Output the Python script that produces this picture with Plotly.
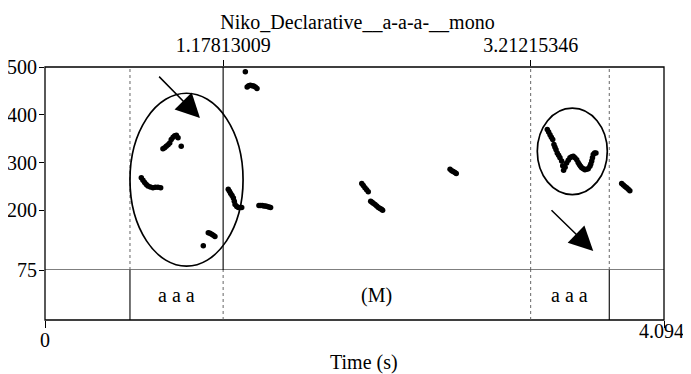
import plotly.graph_objects as go

# ---------------- data ----------------
title_text = "Niko_Declarative__a-a-a-__mono"
x_max = 4.094
x_label = "Time (s)"
f0_ticks = [75, 200, 300, 400, 500]
f0_range = [75, 500]

# pitch points (time in s, f0 in Hz)
times = [
    0.637, 0.648, 0.659, 0.670, 0.681, 0.697, 0.714, 0.730, 0.747, 0.765,
    0.780, 0.791, 0.802, 0.814, 0.825, 0.835, 0.847, 0.858, 0.869, 0.880, 0.901,
    1.047, 1.080, 1.091, 1.102, 1.113, 1.124,
    1.212, 1.220, 1.228, 1.237, 1.246, 1.252, 1.257, 1.268, 1.279, 1.290, 1.301,
    1.325, 1.337, 1.347, 1.358, 1.369, 1.380, 1.391, 1.402,
    1.415, 1.426, 1.437, 1.448, 1.459, 1.470, 1.481, 1.492,
    2.095, 2.105, 2.116, 2.127, 2.138,
    2.154, 2.163, 2.171, 2.183, 2.194, 2.205, 2.216, 2.225, 2.233,
    2.679, 2.690, 2.700, 2.711, 2.720,
    3.322, 3.331, 3.340, 3.349, 3.358, 3.366, 3.373, 3.380, 3.388, 3.397,
    3.406, 3.417, 3.424, 3.430, 3.440, 3.450, 3.461, 3.472, 3.483, 3.494,
    3.505, 3.517, 3.526, 3.534, 3.542, 3.550, 3.561, 3.571, 3.582, 3.593,
    3.604, 3.610, 3.616, 3.621, 3.626, 3.635, 3.644,
    3.814, 3.825, 3.836, 3.847, 3.858, 3.868,
]
f0 = [
    268, 263, 258, 254, 251, 249, 247, 248, 248, 247,
    329, 331, 334, 337, 341, 348, 353, 356, 357, 352, 334,
    126, 153, 152, 150, 148, 145,
    244, 240, 235, 231, 226, 219, 212, 208, 206, 206, 206,
    490, 458, 461, 462, 461, 460, 458, 455,
    210, 210, 210, 209, 209, 208, 207, 206,
    256, 252, 247, 243, 239,
    219, 217, 215, 212, 209, 206, 204, 202, 200,
    286, 283, 281, 279, 277,
    369, 364, 358, 353, 348, 338, 332, 327, 320, 315,
    310, 303, 293, 284, 290, 299, 305, 310, 312, 313,
    310, 306, 300, 296, 292, 289, 287, 285, 286, 287,
    292, 297, 303, 310, 317, 320, 320,
    256, 253, 250, 247, 244, 241,
]

# text-grid tier
tier_bounds = [0.562, 1.17813009, 3.21215346, 3.732]
tier_labels = ["a a a", "(M)", "a a a"]
top_marks = [1.17813009, 3.21215346]
top_mark_labels = ["1.17813009", "3.21215346"]

# hand-drawn annotations (time, Hz)
ellipse_x = [[0.562, 1.31], [3.256, 3.719]]
ellipse_y = [[83, 445], [233, 414]]
arrow_tail = [[0.745, 483], [3.340, 203]]
arrow_head = [[1.025, 393], [3.626, 115]]

# ---------------- figure ----------------
FONT = "Liberation Serif, Times New Roman, serif"
tier_frac = 50 / 253
W, H = 683, 366  # page body adds an 8px offset

fig = go.Figure()
fig.add_trace(go.Scatter(
    x=times, y=f0, mode="markers",
    marker=dict(size=5.5, color="black", line=dict(width=0)),
    xaxis="x", yaxis="y", showlegend=False, hoverinfo="skip"))
# invisible trace to carry the top axis
fig.add_trace(go.Scatter(
    x=top_marks, y=[f0_range[1]] * len(top_marks), mode="markers",
    marker=dict(size=1, opacity=0), xaxis="x2", yaxis="y",
    showlegend=False, hoverinfo="skip"))

shapes = []
shapes.append(dict(type="rect", xref="paper", yref="paper", x0=0, x1=1, y0=0, y1=1,
                   line=dict(color="black", width=1.3)))
shapes.append(dict(type="line", xref="paper", yref="y", x0=0, x1=1,
                   y0=f0_range[0], y1=f0_range[0], line=dict(color="black", width=1.2)))
pitch_styles = ["dot", "solid", "dot", "dot"]
tier_styles = ["solid", "dot", "dot", "solid"]
for b, ps, ts in zip(tier_bounds, pitch_styles, tier_styles):
    shapes.append(dict(type="line", xref="x", yref="y", x0=b, x1=b,
                       y0=f0_range[0], y1=f0_range[1],
                       line=dict(color="black" if ps == "solid" else "#555",
                                 width=1.1 if ps == "solid" else 0.9, dash=ps)))
    shapes.append(dict(type="line", xref="x", yref="y2", x0=b, x1=b, y0=0, y1=1,
                       line=dict(color="black" if ts == "solid" else "#555",
                                 width=1.1 if ts == "solid" else 0.9, dash=ts)))
for ex, ey in zip(ellipse_x, ellipse_y):
    shapes.append(dict(type="circle", xref="x", yref="y", x0=ex[0], x1=ex[1],
                       y0=ey[0], y1=ey[1], line=dict(color="black", width=1.7)))

annotations = []
for i, lab in enumerate(tier_labels):
    annotations.append(dict(x=(tier_bounds[i] + tier_bounds[i + 1]) / 2, y=0.5,
                            xref="x", yref="y2", text=lab, showarrow=False,
                            font=dict(family=FONT, size=20, color="black"),
                            xanchor="center", yanchor="middle"))
for t, h in zip(arrow_tail, arrow_head):
    annotations.append(dict(x=h[0], y=h[1], ax=t[0], ay=t[1],
                            xref="x", yref="y", axref="x", ayref="y",
                            text="", showarrow=True, arrowhead=2, arrowsize=3.2,
                            arrowwidth=1.5, arrowcolor="black"))
# y tick labels
for v in f0_ticks:
    annotations.append(dict(x=0, y=v, xref="paper", yref="y", text=str(v),
                            showarrow=False, xanchor="right", yanchor="middle",
                            xshift=-6, font=dict(family=FONT, size=20, color="black")))
annotations.append(dict(x=0, y=0, xref="x", yref="paper", text="0", showarrow=False,
                        yshift=-20, xanchor="center", yanchor="middle",
                        font=dict(family=FONT, size=20, color="black")))
annotations.append(dict(x=x_max, y=0, xref="x", yref="paper", text=f"{x_max:g}",
                        showarrow=False, yshift=-11, xshift=-3,
                        xanchor="center", yanchor="middle",
                        font=dict(family=FONT, size=20, color="black")))
annotations.append(dict(x=0.5, y=0, xref="paper", yref="paper", text=x_label,
                        showarrow=False, yshift=-42, xshift=9,
                        xanchor="center", yanchor="middle",
                        font=dict(family=FONT, size=20, color="black")))

fig.update_layout(
    width=W, height=H,
    margin=dict(l=37, r=27, t=59, b=54, autoexpand=False),
    paper_bgcolor="white", plot_bgcolor="white",
    font=dict(family=FONT, size=20, color="black"),
    title=dict(text=title_text, x=349.5 / W, xanchor="center", y=1 - 14 / H,
               yanchor="middle", yref="container",
               font=dict(family=FONT, size=20, color="black")),
    xaxis=dict(domain=[0, 1], range=[0, x_max], anchor="y2", automargin=False,
               tickvals=[0, x_max], ticks="outside", ticklen=7, tickwidth=1.2,
               tickcolor="black", showticklabels=False, showgrid=False,
               zeroline=False, showline=False, fixedrange=True),
    xaxis2=dict(overlaying="x", matches="x", side="top", anchor="y", automargin=False,
                range=[0, x_max], tickvals=top_marks, ticktext=top_mark_labels,
                ticks="outside", ticklen=6, tickwidth=1.2, tickcolor="black",
                tickfont=dict(family=FONT, size=20, color="black"),
                showgrid=False, zeroline=False, showline=False),
    yaxis=dict(domain=[tier_frac, 1], range=f0_range, anchor="x", automargin=False,
               tickvals=f0_ticks, ticks="outside", ticklen=5, tickwidth=1.2,
               tickcolor="black", showticklabels=False,
               showgrid=False, zeroline=False, showline=False),
    yaxis2=dict(domain=[0, tier_frac], range=[0, 1], anchor="x", automargin=False,
                showticklabels=False, ticks="", showgrid=False,
                zeroline=False, showline=False),
    shapes=shapes, annotations=annotations, showlegend=False,
)

fig.write_html("out.html")
